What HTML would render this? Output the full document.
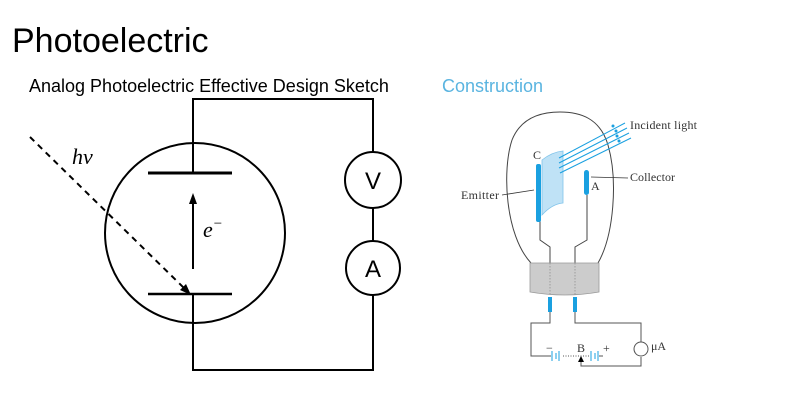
<!DOCTYPE html>
<html><head><meta charset="utf-8"><style>
html,body{margin:0;padding:0;background:#fff;width:800px;height:400px;overflow:hidden}
svg{display:block}
</style></head><body>
<svg width="800" height="400" viewBox="0 0 800 400" xmlns="http://www.w3.org/2000/svg">
<text x="12" y="52" font-family="Liberation Sans, sans-serif" font-size="34" fill="#000">Photoelectric</text>
<text x="29" y="92" font-family="Liberation Sans, sans-serif" font-size="18" fill="#000">Analog Photoelectric Effective Design Sketch</text>
<text x="442" y="92" font-family="Liberation Sans, sans-serif" font-size="18" fill="#5ab4e0">Construction</text>

<g stroke="#000" stroke-width="2" fill="none">
<path d="M193 173 V99 H373 V152 M373 208 V241 M373 295 V370 H193 V294"/>
<circle cx="195" cy="233" r="90"/>
<line x1="148" y1="173" x2="232" y2="173" stroke-width="3"/>
<line x1="148" y1="294" x2="232" y2="294" stroke-width="2.5"/>
<line x1="193" y1="269" x2="193" y2="200"/>
<circle cx="373" cy="180" r="28"/>
<circle cx="373" cy="268" r="27"/>
<line x1="30" y1="137" x2="186" y2="290" stroke-dasharray="6,5"/>
</g>
<polygon points="193,193 189,204 197,204" fill="#000"/>
<polygon points="191,295 180,290 186,284" fill="#000"/>
<text x="72" y="164" font-family="Liberation Serif, serif" font-style="italic" font-size="22">hν</text>
<text x="203" y="237" font-family="Liberation Serif, serif" font-style="italic" font-size="22">e<tspan font-size="15" dy="-9">−</tspan></text>
<text x="373" y="189" text-anchor="middle" font-family="Liberation Sans, sans-serif" font-size="24">V</text>
<text x="373" y="277" text-anchor="middle" font-family="Liberation Sans, sans-serif" font-size="24">A</text>

<!-- Construction -->
<g fill="none" stroke="#444" stroke-width="1">
<path d="M531 263 C505 235 502 170 512 140 C522 115 545 112 560 112 C580 112 600 118 608 145 C618 180 614 235 598 263"/>
<path d="M540 221 V240 L550 247 V263 M587 195 V240 L575 247 V263"/>
</g>
<path d="M530 263 H599 V292 Q565 298 530 292 Z" fill="#ccc" stroke="#999" stroke-width="0.8"/>
<path d="M550 263 V295 M575 263 V295" stroke="#888" stroke-width="0.7" stroke-dasharray="1.5,1.5"/>
<path d="M542 160 Q552 152 563 151 V203 Q552 204 542 215 Z" fill="#bfe2f6" stroke="#7fc3ea" stroke-width="0.8"/>
<rect x="536" y="164" width="5" height="58" rx="2" fill="#1aa0e0"/>
<rect x="584" y="170" width="5" height="25" rx="2.5" fill="#1aa0e0"/>
<g stroke="#1aa0e0" stroke-width="1">
<line x1="559" y1="158" x2="625" y2="123"/>
<line x1="559" y1="163" x2="627" y2="128"/>
<line x1="559" y1="168" x2="629" y2="133"/>
<line x1="560" y1="173" x2="631" y2="138"/>
</g>
<g fill="#1aa0e0"><circle cx="613" cy="126" r="1.5"/><circle cx="616" cy="131" r="1.5"/><circle cx="617" cy="136" r="1.5"/><circle cx="619" cy="141" r="1.5"/></g>
<rect x="548" y="297" width="4" height="15" fill="#1aa0e0"/>
<rect x="573" y="297" width="4" height="15" fill="#1aa0e0"/>
<g fill="none" stroke="#555" stroke-width="1">
<path d="M550 312 V323 H531 V356 H551 M599 356 H603 M575 312 V323 H641 V342 M641 357 V366 H581 V358"/>
<line x1="563" y1="356" x2="590" y2="356" stroke-dasharray="1,1.5"/>
<circle cx="641" cy="349" r="7"/>
</g>
<g stroke="#1aa0e0" stroke-width="1"><path d="M552 351 V361 M556 353 V359 M559 351 V361 M591 351 V361 M595 353 V359 M598 351 V361"/></g>
<polygon points="581,356 578,362 584,362" fill="#000"/>
<g font-family="Liberation Serif, serif" font-size="12" fill="#333">
<text x="630" y="129" textLength="67">Incident light</text>
<text x="630" y="181" textLength="45">Collector</text>
<text x="461" y="199" textLength="38">Emitter</text>
<text x="533" y="159">C</text>
<text x="591" y="190">A</text>
<text x="577" y="352">B</text>
<text x="546" y="352">−</text>
<text x="603" y="352">+</text>
<text x="651" y="350">μA</text>
</g>
<g stroke="#333" stroke-width="0.8"><line x1="502" y1="195" x2="534" y2="190"/><line x1="628" y1="178" x2="591" y2="177"/></g>
</svg>
</body></html>
